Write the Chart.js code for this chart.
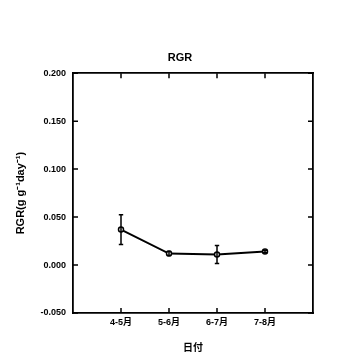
<!DOCTYPE html>
<html><head><meta charset="utf-8">
<script src="https://cdn.jsdelivr.net/npm/chart.js@4.4.1/dist/chart.umd.min.js"></script>
<style>html,body{margin:0;padding:0;background:#fff}#wrap{width:360px;height:360px}</style>
</head><body><div id="wrap"><canvas id="c" width="360" height="360"></canvas></div>
<script>
const categories = ['4-5月', '5-6月', '6-7月', '7-8月'];
const rgrValues = [0.037, 0.012, 0.011, 0.014];
const rgrErrors = [0.0155, 0.002, 0.0094, 0.0012];
const yMin = -0.05, yMax = 0.2, yStep = 0.05;

const FONT = '"Liberation Sans", "Noto Sans CJK JP", Arial, sans-serif';

const points = categories.map((c, i) => ({x: i + 1, y: rgrValues[i]}));

const errPlugin = {
  id: 'errbars',
  afterDatasetsDraw(chart) {
    const ctx = chart.ctx, xs = chart.scales.x, ys = chart.scales.y;
    ctx.save();
    ctx.strokeStyle = '#000';
    ctx.lineWidth = 1.5;
    rgrValues.forEach((v, i) => {
      const px = xs.getPixelForValue(i + 1);
      const top = ys.getPixelForValue(v + rgrErrors[i]);
      const bot = ys.getPixelForValue(v - rgrErrors[i]);
      ctx.beginPath();
      ctx.moveTo(px, top); ctx.lineTo(px, bot);
      ctx.moveTo(px - 2.2, top); ctx.lineTo(px + 2.2, top);
      ctx.moveTo(px - 2.2, bot); ctx.lineTo(px + 2.2, bot);
      ctx.stroke();
    });
    ctx.restore();
  }
};

const tickPlugin = {
  id: 'inticks',
  afterDraw(chart) {
    const ctx = chart.ctx, a = chart.chartArea;
    const xs = chart.scales.x, ys = chart.scales.y;
    const L = 5;
    ctx.save();
    ctx.strokeStyle = '#000';
    ctx.lineWidth = 1.5;
    ctx.beginPath();
    categories.forEach((c, i) => {
      const px = xs.getPixelForValue(i + 1);
      ctx.moveTo(px, a.bottom); ctx.lineTo(px, a.bottom - L);
      ctx.moveTo(px, a.top); ctx.lineTo(px, a.top + L);
    });
    ys.ticks.forEach(t => {
      const py = ys.getPixelForValue(t.value);
      ctx.moveTo(a.left, py); ctx.lineTo(a.left + L, py);
      ctx.moveTo(a.right, py); ctx.lineTo(a.right - L, py);
    });
    ctx.stroke();
    ctx.restore();
  }
};

const gridOff = {display: true, drawOnChartArea: false, drawTicks: false};
const borderOn = {display: true, color: '#000', width: 1.8};

new Chart(document.getElementById('c'), {
  type: 'line',
  data: {
    datasets: [{
      data: points,
      borderColor: '#000',
      borderWidth: 2,
      backgroundColor: '#fff',
      pointRadius: 2.5,
      pointBorderWidth: 1.5,
      pointBackgroundColor: '#fff',
      pointBorderColor: '#000',
      tension: 0
    }]
  },
  options: {
    responsive: false,
    animation: false,
    devicePixelRatio: 1,
    layout: {padding: 0},
    plugins: {
      legend: {display: false},
      tooltip: {enabled: false},
      title: {
        display: true, text: 'RGR', color: '#000',
        font: {family: FONT, size: 11, weight: 'bold'},
        padding: {top: 51, bottom: 9}
      }
    },
    scales: {
      x: {
        type: 'linear', position: 'bottom', min: 0, max: categories.length + 1,
        afterBuildTicks: s => { s.ticks = categories.map((c, i) => ({value: i + 1})); },
        afterFit: s => { s.height = 47; },
        grid: gridOff, border: borderOn,
        ticks: {
          autoSkip: false, maxRotation: 0, padding: 4, color: '#000',
          font: {family: FONT, size: 9, weight: 'bold'},
          callback: v => categories[v - 1] || ''
        },
        title: {display: true, text: '日付', color: '#000',
          font: {family: FONT, size: 10, weight: 'bold'}, padding: {top: 0, bottom: 6}}
      },
      x2: {
        type: 'linear', position: 'top', min: 0, max: categories.length + 1,
        afterFit: s => { s.height = 0; },
        grid: gridOff, border: borderOn, ticks: {display: false}
      },
      y: {
        type: 'linear', position: 'left', min: yMin, max: yMax,
        afterFit: s => { s.width = 73; },
        grid: gridOff, border: borderOn,
        ticks: {
          stepSize: yStep, padding: 7, color: '#000',
          font: {family: FONT, size: 9, weight: 'bold'},
          callback: v => Number(v).toFixed(3)
        },
        title: {display: true, text: 'RGR(g g⁻¹day⁻¹)', color: '#000',
          font: {family: FONT, size: 11, weight: 'bold'}, padding: {top: 14, bottom: 0}}
      },
      y2: {
        type: 'linear', position: 'right', min: yMin, max: yMax,
        afterFit: s => { s.width = 47; },
        grid: gridOff, border: borderOn, ticks: {display: false, stepSize: yStep}
      }
    }
  },
  plugins: [errPlugin, tickPlugin]
});
</script></body></html>
